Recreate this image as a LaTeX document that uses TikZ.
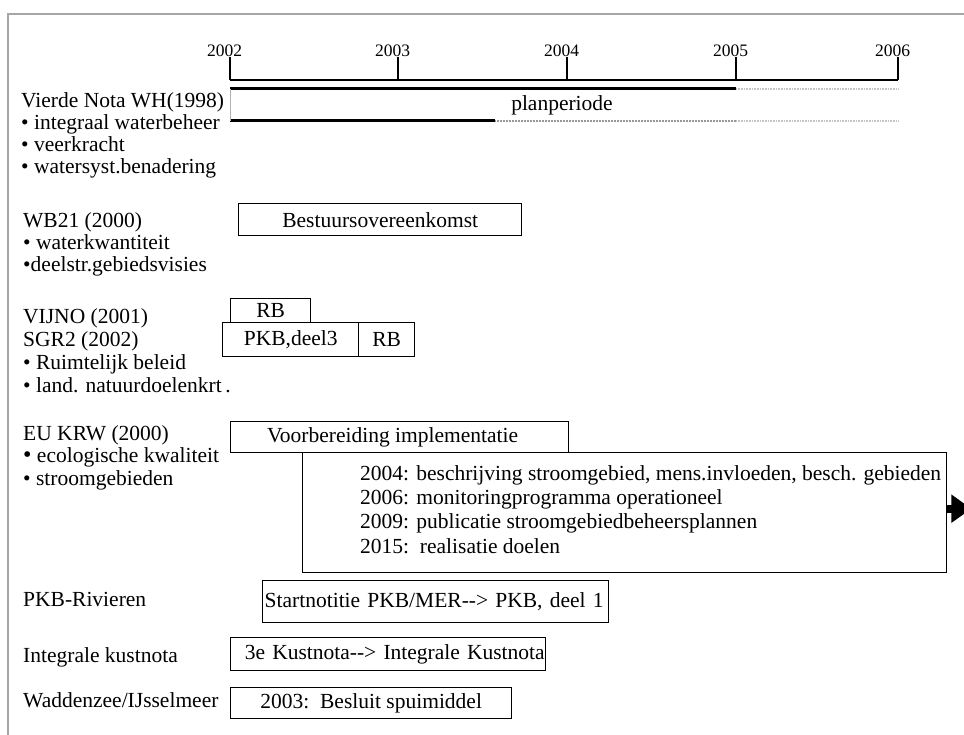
\documentclass[tikz,border=0pt]{standalone}
\usepackage{fontspec}
\setmainfont{Liberation Serif}
\usetikzlibrary{arrows.meta}

\begin{document}
\begin{tikzpicture}[x=1pt,y=-1pt,
  txt/.style={font=\fontsize{21.5}{22.3}\selectfont,inner sep=0pt},
  lbl/.style={txt,anchor=base west,align=left},
  box/.style={txt,draw,line width=1.4pt,anchor=north west},
  yr/.style={font=\fontsize{17.5}{17.5}\selectfont,inner sep=0pt,anchor=base},
  dots/.style={line width=2.5pt,dash pattern=on 0.8pt off 0.8pt}]
\useasboundingbox (0,0) rectangle (964,735);
% frame
\draw[gray!70,line width=2pt] (8,735) -- (8,14) -- (964,14);

% time axis
\draw[line width=1.8pt] (230,80) -- (898,80);
\foreach \x/\y in {230/2002,398/2003,567/2004,736/2005,898/2006} {
  \node[yr] (y\y) at (\x-5.5,57) {\y};
  \draw[line width=1.6pt] (\x,57) -- (\x,80);
}

% planperiode
\draw[line width=3pt] (230,89) -- (736,89);
\draw[dots,gray!45] (736,89) -- (898,89);
\draw[line width=3pt] (230,121) -- (495,121);
\draw[dots,gray!80,dash pattern=on 1pt off 0.5pt] (495,121) -- (736,121);
\draw[dots,gray!45] (736,121) -- (898,121);
\draw[gray!60,line width=0.6pt] (230,89) -- (230,121);
\node[txt,anchor=base] (plan) at (562,111) {planperiode};

% left column (base = last line)
\node[lbl] (vierde) at (21,174) {Vierde Nota WH(1998)\\
  • integraal waterbeheer\\
  • veerkracht\\
  • watersyst.benadering};
\node[lbl] (wb21) at (23,272) {WB21 (2000)\\
  • waterkwantiteit\\
  •deelstr.gebiedsvisies};
\node[lbl,font=\fontsize{21.5}{23}\selectfont] (vijno) at (23,392) {VIJNO (2001)\\
  SGR2 (2002)\\
  • Ruimtelijk beleid\\
  • land. natuurdoelenkrt\,.};
\node[lbl] (krwlbl) at (23,485) {EU KRW (2000)\\
  {\fontsize{24}{0}\selectfont •} ecologische kwaliteit\\
  • stroomgebieden};
\node[lbl] (pkbriv) at (23,606) {PKB-Rivieren};
\node[lbl] (kustlbl) at (23,662) {Integrale kustnota};
\node[lbl] (waddlbl) at (23,707) {Waddenzee/IJsselmeer};

% boxes
\node[box,minimum width=283,minimum height=32] (bestuur) at (238,203) {Bestuursovereenkomst};
\node[box,minimum width=80,minimum height=24] (rba) at (230,298) {RB};
\node[box,minimum width=136,minimum height=34] (pkbd) at (222,322) {PKB,deel3};
\node[box,minimum width=56,minimum height=34] (rbb) at (358,322) {RB};
\node[box,minimum width=338,minimum height=31] (voorb) at (230,421) {\hspace*{-14pt}Voorbereiding implementatie};
\node[box,minimum width=644,minimum height=120] (krw) at (302,452) {};
\node[lbl,font=\fontsize{21.5}{24.3}\selectfont] (krwtxt) at (360,553) {2004: beschrijving stroomgebied, mens.invloeden, besch. gebieden\\
  2006: monitoringprogramma operationeel\\
  2009: publicatie stroomgebiedbeheersplannen\\
  2015:\ \ realisatie doelen};
\draw[line width=8pt,-{Triangle[width=27pt,length=20pt]}] ([yshift=4pt]krw.east) -- ++(24,0);
\node[box,minimum height=42,text width=342,inner xsep=2pt,align=left] (startn) at (262,580) {Startnotitie PKB/MER-{}-> PKB, deel 1};
\node[box,minimum height=33,text width=313,inner xsep=1pt,align=right] (kust) at (230,637) {3e Kustnota-{}-> Integrale Kustnota};
\node[box,minimum width=281,minimum height=31] (wadd) at (230,687) {2003:\ \ Besluit spuimiddel};
\end{tikzpicture}
\end{document}
